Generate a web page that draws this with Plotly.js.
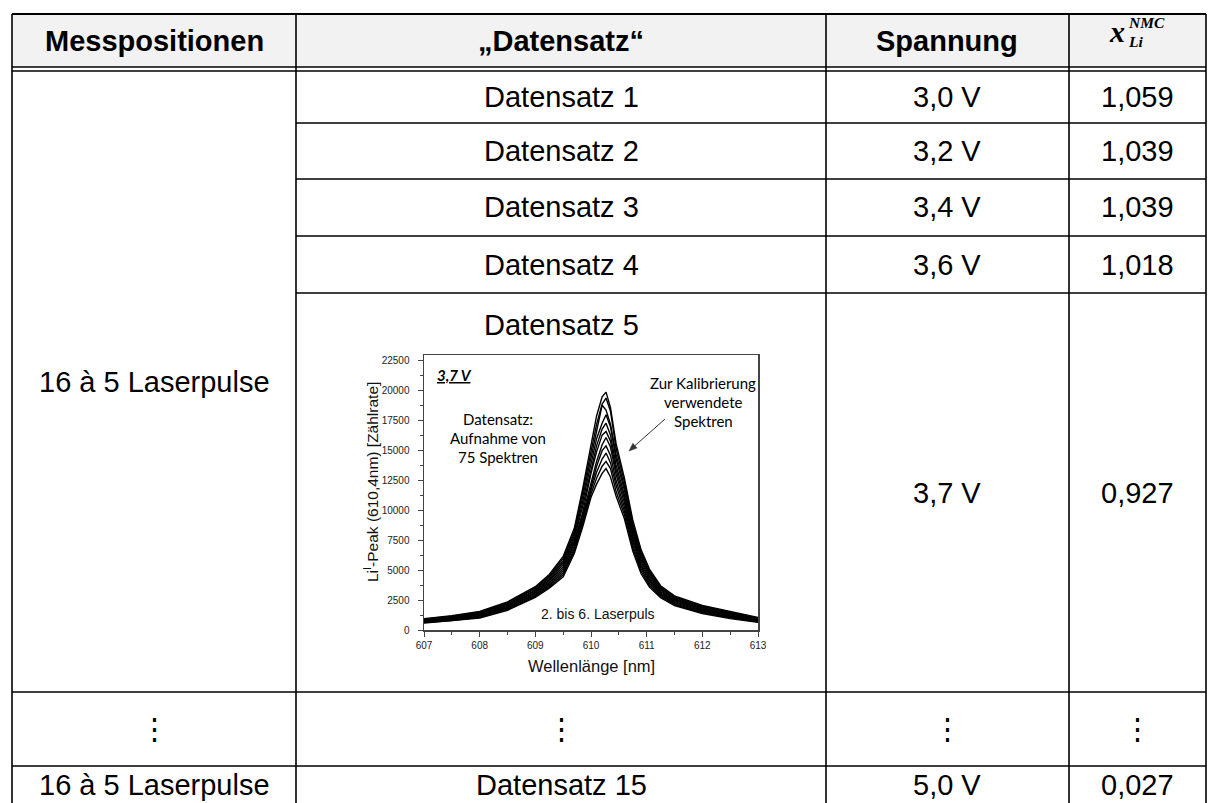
<!DOCTYPE html>
<html>
<head>
<meta charset="utf-8">
<script src="https://cdn.plot.ly/plotly-3.0.1.min.js"></script>
<style>html,body{margin:0;padding:0;background:#fff;}#chart{width:1208px;height:803px;}</style>
</head>
<body>
<div id="chart"></div>
<script>
// ---------- table content ----------
const headerLabels = ['Messpositionen', '„Datensatz“', 'Spannung'];
const headerMath = {base: 'x', sup: 'NMC', sub: 'Li'};
const messpositionen = ['16 à 5 Laserpulse', '⋮', '16 à 5 Laserpulse'];
const datensatz = ['Datensatz 1', 'Datensatz 2', 'Datensatz 3', 'Datensatz 4', 'Datensatz 5', '⋮', 'Datensatz 15'];
const spannung = ['3,0 V', '3,2 V', '3,4 V', '3,6 V', '3,7 V', '⋮', '5,0 V'];
const xLiNMC = ['1,059', '1,039', '1,039', '1,018', '0,927', '⋮', '0,027'];

// ---------- embedded spectrum chart (Datensatz 5, 3,7 V) ----------
const wavelength = [607.0, 607.5, 608.0, 608.5, 609.0, 609.25, 609.5, 609.7, 609.85, 610.0, 610.1, 610.2,
                    610.27, 610.35, 610.45, 610.6, 610.75, 610.9, 611.05, 611.25, 611.5, 612.0, 612.5, 613.0];
const spectrum01 = [950, 1200, 1560, 2350, 3620, 4650, 6150, 8500, 11800, 15600, 17900, 19500, 19900, 18600, 15600, 12700, 9200, 6700, 5100, 3700, 2850, 2050, 1550, 1050];
const spectrum02 = [910, 1150, 1500, 2290, 3520, 4540, 5990, 8280, 11500, 15000, 17200, 18900, 19400, 18300, 15200, 12400, 8900, 6500, 4950, 3590, 2760, 1990, 1490, 1000];
const spectrum03 = [880, 1110, 1450, 2200, 3450, 4420, 5800, 8100, 11100, 14500, 16600, 18800, 18400, 17200, 14700, 12000, 8700, 6300, 4800, 3500, 2700, 1920, 1420, 960];
const spectrum04 = [840, 1070, 1390, 2150, 3340, 4300, 5650, 7850, 10700, 14000, 16000, 17300, 18000, 17000, 14300, 11700, 8400, 6100, 4650, 3400, 2610, 1850, 1370, 930];
const spectrum05 = [800, 1020, 1340, 2060, 3270, 4180, 5480, 7650, 10300, 13500, 15400, 16800, 17300, 16300, 13800, 11300, 8150, 5900, 4500, 3300, 2530, 1780, 1310, 890];
const spectrum06 = [770, 980, 1280, 2000, 3170, 4080, 5300, 7450, 9800, 13100, 14900, 16300, 16600, 15800, 13400, 11000, 7900, 5700, 4350, 3200, 2450, 1720, 1250, 850];
const spectrum07 = [730, 940, 1220, 1930, 3080, 3960, 5130, 7250, 9550, 12400, 14100, 15500, 16100, 15300, 13000, 10650, 7650, 5500, 4200, 3100, 2370, 1650, 1190, 800];
const spectrum08 = [690, 890, 1170, 1860, 2990, 3840, 4960, 7030, 9300, 12000, 13700, 15000, 15400, 14600, 12500, 10300, 7400, 5300, 4050, 3000, 2290, 1580, 1130, 760];
const spectrum09 = [650, 850, 1110, 1790, 2900, 3730, 4790, 6820, 9100, 11700, 13200, 14300, 14800, 14000, 12100, 9950, 7100, 5100, 3900, 2900, 2210, 1510, 1070, 720];
const spectrum10 = [620, 800, 1060, 1720, 2810, 3610, 4620, 6600, 8850, 11400, 12700, 13700, 14100, 13500, 11600, 9650, 6850, 4900, 3750, 2800, 2130, 1450, 1010, 680];
const spectrum11 = [580, 760, 1000, 1650, 2720, 3500, 4450, 6400, 8600, 11100, 12200, 13100, 13500, 12800, 11200, 9300, 6600, 4700, 3600, 2700, 2050, 1380, 950, 640];
const spectra = [spectrum01, spectrum02, spectrum03, spectrum04, spectrum05, spectrum06, spectrum07,
                 spectrum08, spectrum09, spectrum10, spectrum11];

const chartLabel = '3,7 V';
const noteDataset = ['Datensatz:', 'Aufnahme von', '75 Spektren'];
const noteCalib = ['Zur Kalibrierung', 'verwendete', 'Spektren'];
const notePulse = '2. bis 6. Laserpuls';
const xTitle = 'Wellenlänge [nm]';
const yTitle = 'Li<sup>I</sup>-Peak (610,4nm) [Zählrate]';

// ---------- geometry helpers (pixel -> paper) ----------
const W = 1208, H = 803;
const X = px => px / W;
const Y = py => 1 - py / H;

const colX = [12, 296, 826, 1069, 1206];
const colC = [154, 561, 947, 1137];
const rowTop = [71, 123, 179, 236, 293, 692, 766];
const rowBot = [123, 179, 236, 293, 692, 766, 803];

const FONT = 'Liberation Sans, Arial, sans-serif';
const CAL = 'Lato, Carlito, sans-serif';
const SERIF = 'Liberation Serif, serif';

const shapes = [];
function hline(y, x0, x1, w) {
  shapes.push({type: 'line', xref: 'paper', yref: 'paper', x0: X(x0), x1: X(x1), y0: Y(y), y1: Y(y),
               line: {color: '#000', width: w || 1.6}});
}
function vline(x, y0, y1, w) {
  shapes.push({type: 'line', xref: 'paper', yref: 'paper', x0: X(x), x1: X(x), y0: Y(y0), y1: Y(y1),
               line: {color: '#000', width: w || 1.6}});
}
shapes.push({type: 'rect', xref: 'paper', yref: 'paper', x0: X(12), x1: X(1206), y0: Y(14), y1: Y(67),
             fillcolor: '#f2f2f2', line: {width: 0}, layer: 'below'});
hline(14, 12, 1206, 2);
hline(67, 12, 1206, 1.4);
hline(71, 12, 1206, 1.4);
[123, 179, 236, 293].forEach(y => hline(y, 296, 1206));
hline(692, 12, 1206);
hline(766, 12, 1206);
colX.forEach(x => vline(x, 14, 803));

// arrow (pointing to the calibration spectra) drawn as line + head
(function () {
  const sx = 665, sy = 419, tx = 629, ty = 451;
  const dx = tx - sx, dy = ty - sy, len = Math.hypot(dx, dy);
  const ux = dx / len, uy = dy / len, px = -uy, py = ux;
  const bx = tx - 8 * ux, by = ty - 8 * uy;
  shapes.push({type: 'line', xref: 'paper', yref: 'paper', x0: X(sx), y0: Y(sy), x1: X(bx), y1: Y(by),
               line: {color: '#333', width: 1}});
  const p1 = [bx + 3.2 * px, by + 3.2 * py], p2 = [bx - 3.2 * px, by - 3.2 * py];
  shapes.push({type: 'path', xref: 'paper', yref: 'paper',
               path: 'M' + X(tx) + ',' + Y(ty) + ' L' + X(p1[0]) + ',' + Y(p1[1]) + ' L' + X(p2[0]) + ',' + Y(p2[1]) + ' Z',
               fillcolor: '#333', line: {color: '#333', width: 0.5}});
})();

const ann = [];
function txt(text, x, y, size, opts) {
  ann.push(Object.assign({text: text, xref: 'paper', yref: 'paper', x: X(x), y: Y(y),
    xanchor: 'center', yanchor: 'middle', showarrow: false,
    font: {family: FONT, size: size, color: '#000'}}, opts || {}));
}
// header
headerLabels.forEach((t, i) => txt('<b>' + t + '</b>', colC[i], 41, 29));
txt('<b><i>' + headerMath.base + '</i></b>', 1117, 31, 30,
    {borderpad: 0, font: {family: SERIF, size: 30, color: '#000'}});
txt('<b><i>' + headerMath.sup + '</i></b>', 1127, 22, 15.5,
    {xanchor: 'left', borderpad: 0, font: {family: SERIF, size: 15.5, color: '#000'}});
txt('<b><i>' + headerMath.sub + '</i></b>', 1127, 42, 15.5,
    {xanchor: 'left', borderpad: 0, font: {family: SERIF, size: 15.5, color: '#000'}});

// body
txt(messpositionen[0], colC[0], (rowTop[0] + rowBot[4]) / 2, 29);
txt(messpositionen[1], colC[0], (rowTop[5] + rowBot[5]) / 2, 29);
txt(messpositionen[2], colC[0], (rowTop[6] + rowBot[6]) / 2, 29);
for (let r = 0; r < datensatz.length; r++) {
  const mid = (rowTop[r] + rowBot[r]) / 2;
  const dy = (r === 4) ? 325 : mid;
  txt(datensatz[r], colC[1], dy, 29);
  txt(spannung[r], colC[2], mid, 29);
  txt(xLiNMC[r], colC[3], mid, 29);
}

// chart annotations
txt('<b><i><u>' + chartLabel + '</u></i></b>', 454, 375, 15, {font: {family: CAL, size: 15, color: '#000'}});
noteDataset.forEach((t, i) => txt(t, 498, 419 + i * 19, 15, {font: {family: CAL, size: 15, color: '#000'}}));
noteCalib.forEach((t, i) => txt(t, 703, 383 + i * 19, 15, {font: {family: CAL, size: 15, color: '#000'}}));
txt(notePulse, 598, 614, 14, {font: {family: FONT, size: 14, color: '#111'}});
txt(xTitle, 591, 666, 16.5, {font: {family: FONT, size: 16.5, color: '#111'}});
txt(yTitle, 371, 482, 15.5, {textangle: -90, font: {family: FONT, size: 15.5, color: '#111'}});

const traces = spectra.map(s => ({
  type: 'scatter', mode: 'lines', x: wavelength, y: s,
  line: {color: '#000', width: 1.4}, showlegend: false, hoverinfo: 'skip'
}));

const axisCommon = {
  showline: true, linecolor: '#444', linewidth: 1.5, mirror: true,
  ticks: 'outside', ticklen: 5, tickwidth: 1, tickcolor: '#444',
  showgrid: false, zeroline: false,
  tickfont: {family: FONT, size: 10, color: '#222'}
};

const layout = {
  width: W, height: H,
  margin: {l: 0, r: 0, t: 0, b: 0},
  paper_bgcolor: '#fff', plot_bgcolor: '#fff',
  showlegend: false, hovermode: false,
  xaxis: Object.assign({}, axisCommon, {
    domain: [X(424), X(758)], range: [607, 613], dtick: 1, tick0: 607,
    minor: {ticks: 'outside', ticklen: 3, dtick: 0.5, tickcolor: '#444'}
  }),
  yaxis: Object.assign({}, axisCommon, {
    domain: [Y(630), Y(355)], range: [0, 23000], dtick: 2500, tick0: 0, tickformat: 'd',
    ticklabelstandoff: 6,
    minor: {ticks: 'outside', ticklen: 3, dtick: 1250, tickcolor: '#444'}
  }),
  shapes: shapes,
  annotations: ann
};

Plotly.newPlot('chart', traces, layout, {displayModeBar: false, staticPlot: true});
</script>
</body>
</html>
